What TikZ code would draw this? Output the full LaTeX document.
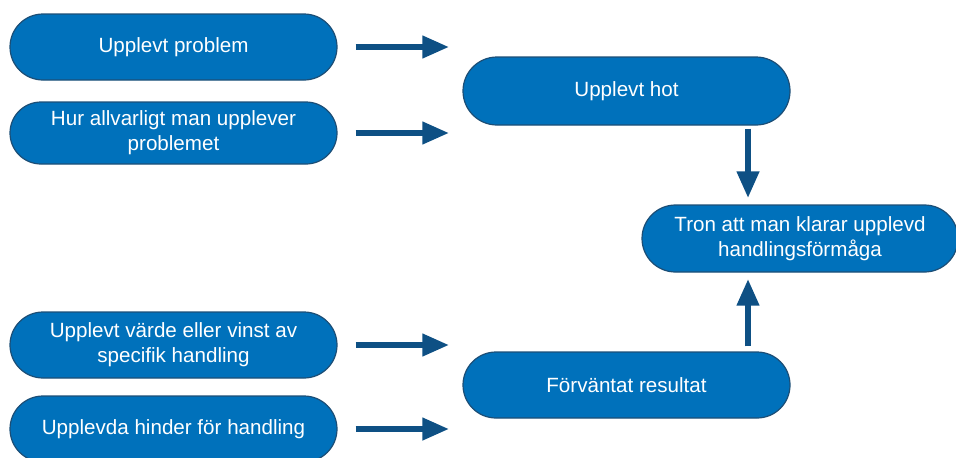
\documentclass[tikz,border=0pt]{standalone}
\usepackage{fontspec}
\setmainfont{Liberation Sans}
\usepackage{tikz}
\usetikzlibrary{arrows.meta, shapes.misc}
\definecolor{boxblue}{RGB}{0,113,187}
\definecolor{boxedge}{RGB}{28,78,118}
\definecolor{arrowblue}{RGB}{14,80,132}
\tikzstyle{box} = [rounded rectangle, draw=boxedge, line width=0.6pt,
    fill=boxblue, text=white, align=center, inner sep=2pt,
    font=\fontsize{10.3}{12.5}\selectfont]
\tikzstyle{arrow} = [draw=arrowblue, line width=3.4pt,
    -{Triangle[length=13.5pt,width=10.5pt]}]

\begin{document}
\begin{tikzpicture}[x=1pt,y=1pt]
        \useasboundingbox (0,0) rectangle (478,228.5);
        \node (problem)[box,
            minimum width=167.5pt,
            minimum height=33pt] at (86.75,205) {Upplevt problem};
        \node (allvar)[box,
            minimum width=167.5pt,
            minimum height=31pt] at (86.75,162) {Hur allvarligt man upplever\\problemet};
        \node (varde)[box,
            minimum width=167.5pt,
            minimum height=33pt] at (86.75,56) {Upplevt värde eller vinst av\\specifik handling};
        \node (hinder)[box,
            minimum width=167.5pt,
            minimum height=33pt] at (86.75,14) {Upplevda hinder för handling};
        \node (hot)[box,
            minimum width=167.5pt,
            minimum height=34pt] at (313.25,183) {Upplevt hot};
        \node (resultat)[box,
            minimum width=167.5pt,
            minimum height=33pt] at (313.25,36) {Förväntat resultat};
        \node (tron)[box,
            minimum width=162pt,
            minimum height=33.5pt] at (400,109.25) {Tron att man klarar upplevd\\handlingsförmåga};
        \draw [arrow] ([xshift=9pt]problem.east) -- ([xshift=-6.5pt]problem.east -| hot.west);
        \draw [arrow] ([xshift=9pt]allvar.east) -- ([xshift=-6.5pt]allvar.east -| hot.west);
        \draw [arrow] ([xshift=9pt]varde.east) -- ([xshift=-6.5pt]varde.east -| resultat.west);
        \draw [arrow] ([xshift=9pt]hinder.east) -- ([xshift=-6.5pt]hinder.east -| resultat.west);
        \draw [arrow] ([xshift=60.75pt,yshift=-1.5pt]hot.south) -- ([xshift=60.75pt,yshift=3pt]hot.south |- tron.north);
        \draw [arrow] ([xshift=60.75pt,yshift=2.5pt]resultat.north) -- ([xshift=60.75pt,yshift=-3pt]resultat.north |- tron.south);
    \end{tikzpicture}
\end{document}
